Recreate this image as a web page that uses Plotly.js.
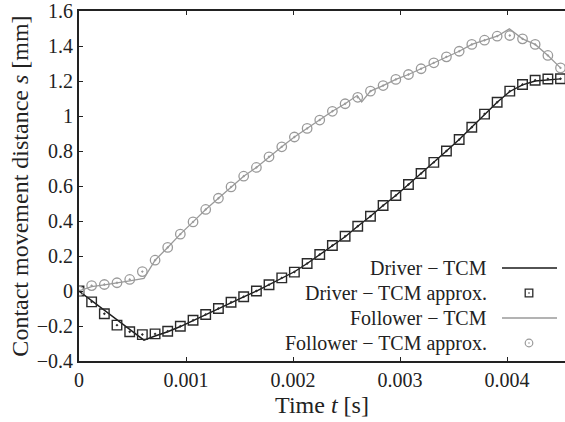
<!DOCTYPE html>
<html>
<head>
<meta charset="utf-8">
<script src="https://cdn.plot.ly/plotly-3.0.1.min.js"></script>
<style>html,body{margin:0;padding:0;background:#fff;}#chart{width:565px;height:422px;}</style>
</head>
<body>
<div id="chart"></div>
<script>
// Sample times of the approximation markers [s]
const timeApprox = [0, 0.000118, 0.000237, 0.000355, 0.000474, 0.000592, 0.000711, 0.000829, 0.000947, 0.001066,
  0.001184, 0.001303, 0.001421, 0.001539, 0.001658, 0.001776, 0.001895, 0.002013, 0.002132, 0.00225,
  0.002368, 0.002487, 0.002605, 0.002724, 0.002842, 0.002961, 0.003079, 0.003197, 0.003316, 0.003434,
  0.003553, 0.003671, 0.00379, 0.003908, 0.004026, 0.004145, 0.004263, 0.004382, 0.0045];

// Driver - TCM approx. [mm]
const driverApprox = [0, -0.062, -0.13, -0.195, -0.233, -0.249, -0.245, -0.23, -0.201, -0.167,
  -0.134, -0.1, -0.064, -0.033, 0.0, 0.036, 0.075, 0.108, 0.157, 0.209,
  0.26, 0.313, 0.37, 0.427, 0.489, 0.546, 0.609, 0.671, 0.735, 0.80,
  0.866, 0.936, 1.011, 1.079, 1.142, 1.18, 1.204, 1.211, 1.213];

// Follower - TCM approx. [mm]
const followerApprox = [0, 0.031, 0.037, 0.047, 0.066, 0.111, 0.176, 0.249, 0.325, 0.395,
  0.466, 0.53, 0.595, 0.656, 0.706, 0.767, 0.824, 0.88, 0.929, 0.977,
  1.027, 1.07, 1.107, 1.142, 1.174, 1.209, 1.237, 1.27, 1.304, 1.338,
  1.37, 1.409, 1.433, 1.456, 1.46, 1.441, 1.409, 1.346, 1.275];

// Driver - TCM curve
const driverTime = [0, 0.000607, 0.000711, 0.000829, 0.000947, 0.001066,
  0.001184, 0.001303, 0.001421, 0.001539, 0.001658, 0.001776, 0.001895, 0.002013, 0.002132, 0.00225,
  0.002368, 0.002487, 0.002605, 0.002724, 0.002842, 0.002961, 0.003079, 0.003197, 0.003316, 0.003434,
  0.003553, 0.003671, 0.00379, 0.003908, 0.004026, 0.004145, 0.004263, 0.004382, 0.0045];
const driverTCM = [0, -0.281, -0.257, -0.233, -0.203, -0.168,
  -0.134, -0.1, -0.064, -0.033, 0.0, 0.036, 0.075, 0.11, 0.157, 0.209,
  0.26, 0.31, 0.37, 0.427, 0.489, 0.546, 0.609, 0.671, 0.735, 0.80,
  0.866, 0.936, 1.011, 1.079, 1.14, 1.178, 1.2, 1.208, 1.212];

// Follower - TCM curve
const followerTime = [0, 0.000118, 0.000237, 0.000355, 0.000474, 0.000607, 0.000711, 0.000829, 0.000947, 0.001066,
  0.001184, 0.001303, 0.001421, 0.001539, 0.001658, 0.001776, 0.001895, 0.002013, 0.002132, 0.00225,
  0.002368, 0.002487, 0.0026, 0.002642, 0.002724, 0.002842, 0.002961, 0.003079, 0.003197, 0.003316,
  0.003434, 0.003553, 0.003671, 0.00379, 0.003908, 0.004022, 0.004145, 0.004263, 0.004382, 0.0045];
const followerTCM = [0, 0.025, 0.035, 0.045, 0.058, 0.072, 0.176, 0.249, 0.325, 0.395,
  0.466, 0.53, 0.595, 0.656, 0.706, 0.767, 0.824, 0.88, 0.929, 0.977,
  1.027, 1.07, 1.117, 1.081, 1.142, 1.174, 1.209, 1.237, 1.27, 1.304,
  1.338, 1.37, 1.409, 1.433, 1.456, 1.498, 1.441, 1.409, 1.346, 1.275];

const legendLabels = ["Driver \u2212 TCM", "Driver \u2212 TCM approx.", "Follower \u2212 TCM", "Follower \u2212 TCM approx."];

const xTickVals = [0, 0.001, 0.002, 0.003, 0.004];
const xTickText = ["0", "0.001", "0.002", "0.003", "0.004"];

const black = "#1a1a1a";
const grey = "#9a9a9a";
const serif = "Liberation Serif";

const traces = [
  {x: driverTime, y: driverTCM, mode: "lines", line: {color: black, width: 1.4}, showlegend: false},
  {x: timeApprox, y: driverApprox, mode: "markers",
   marker: {symbol: "square-open-dot", size: 9.5, color: "#2a2a2a", line: {width: 1.4, color: "#2a2a2a"}}, showlegend: false},
  {x: followerTime, y: followerTCM, mode: "lines", line: {color: grey, width: 1.3}, showlegend: false},
  {x: timeApprox, y: followerApprox, mode: "markers",
   marker: {symbol: "circle-open-dot", size: 9.5, color: grey, line: {width: 1.3, color: grey}}, showlegend: false}
];

// custom legend (text right-aligned, symbol to the right), positions in paper fractions
const L = 79, W = 486, T = 11, H = 350;
const px = v => (v - L) / W;
const py = v => (T + H - v) / H;
const rowY = [268, 293, 318, 343];
const annotations = legendLabels.map((s, i) => ({
  text: s, xref: "paper", yref: "paper", x: px(489), y: py(rowY[i]), xanchor: "right", yanchor: "middle",
  showarrow: false, font: {family: serif, size: 20, color: "#222"}
}));
const shapes = [
  {type: "line", xref: "paper", yref: "paper", x0: px(502), x1: px(557), y0: py(rowY[0]), y1: py(rowY[0]), line: {color: black, width: 1.5}},
  {type: "rect", xref: "paper", yref: "paper", xsizemode: "pixel", ysizemode: "pixel", xanchor: px(529), yanchor: py(rowY[1]),
   x0: -3.8, x1: 3.8, y0: -3.8, y1: 3.8, line: {color: "#2a2a2a", width: 1.3}},
  {type: "circle", xref: "paper", yref: "paper", xsizemode: "pixel", ysizemode: "pixel", xanchor: px(529), yanchor: py(rowY[1]),
   x0: -0.8, x1: 0.8, y0: -0.8, y1: 0.8, fillcolor: "#2a2a2a", line: {width: 0}},
  {type: "line", xref: "paper", yref: "paper", x0: px(502), x1: px(557), y0: py(rowY[2]), y1: py(rowY[2]), line: {color: grey, width: 1.3}},
  {type: "circle", xref: "paper", yref: "paper", xsizemode: "pixel", ysizemode: "pixel", xanchor: px(529), yanchor: py(rowY[3]),
   x0: -3.8, x1: 3.8, y0: -3.8, y1: 3.8, line: {color: grey, width: 1.2}},
  {type: "circle", xref: "paper", yref: "paper", xsizemode: "pixel", ysizemode: "pixel", xanchor: px(529), yanchor: py(rowY[3]),
   x0: -0.8, x1: 0.8, y0: -0.8, y1: 0.8, fillcolor: grey, line: {width: 0}}
];

const layout = {
  width: 565, height: 422,
  margin: {l: L, r: 565 - L - W, t: T, b: 422 - T - H},
  paper_bgcolor: "#fff", plot_bgcolor: "#fff",
  font: {family: serif, size: 20, color: "#222"},
  showlegend: false,
  xaxis: {
    range: [0, 0.004542], tickvals: xTickVals, ticktext: xTickText,
    ticks: "inside", ticklen: 4, tickwidth: 1, tickcolor: "#222",
    showline: true, linecolor: "#222", linewidth: 2, mirror: "ticks",
    showgrid: false, zeroline: false,
    tickfont: {family: serif, size: 20, color: "#222"},
    title: {text: "Time <i>t</i> [s]", font: {family: serif, size: 24, color: "#222"}, standoff: 6}
  },
  yaxis: {
    range: [-0.4, 1.6], dtick: 0.2,
    ticks: "inside", ticklen: 4, tickwidth: 1, tickcolor: "#222",
    showline: true, linecolor: "#222", linewidth: 2, mirror: false,
    showgrid: false, zeroline: false,
    tickfont: {family: serif, size: 20, color: "#222"},
    title: {text: "Contact movement distance <i>s</i> [mm]", font: {family: serif, size: 24, color: "#222"}, standoff: 1}
  },
  annotations: annotations,
  shapes: shapes
};

Plotly.newPlot("chart", traces, layout, {displayModeBar: false, staticPlot: true});
</script>
</body>
</html>
